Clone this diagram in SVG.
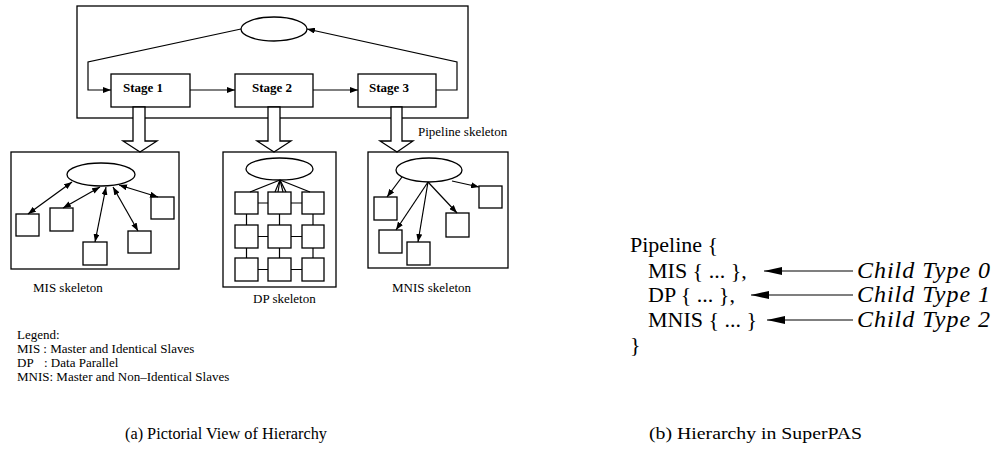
<svg xmlns="http://www.w3.org/2000/svg" width="995" height="458" viewBox="0 0 995 458">
<style>
.b{fill:#fff;stroke:#000;stroke-width:1.3}
.bx{fill:none;stroke:#000;stroke-width:1.3}
.ln{fill:none;stroke:#000;stroke-width:1.2}
.t{font-family:"Liberation Serif","Times New Roman",serif;font-size:13px;fill:#000}
.st{font-family:"Liberation Serif","Times New Roman",serif;font-size:13px;fill:#000;font-weight:bold}
.c{font-family:"Liberation Serif","Times New Roman",serif;font-size:22px;fill:#000}
.ci{font-family:"Liberation Serif","Times New Roman",serif;font-size:24px;font-style:italic;fill:#000}
.cap{font-family:"Liberation Serif","Times New Roman",serif;font-size:17px;fill:#000}
</style>
<defs>
<marker id="ah" markerUnits="userSpaceOnUse" markerWidth="8" markerHeight="6" refX="8" refY="3" orient="auto-start-reverse"><path d="M0,0 L8,3 L0,6 z" fill="#000"/></marker>
<marker id="ahL" markerUnits="userSpaceOnUse" markerWidth="18" markerHeight="8" refX="18" refY="4" orient="auto"><path d="M0,0 L18,4 L0,8 z" fill="#000"/></marker>
</defs>
<rect width="995" height="458" fill="#fff"/>

<!-- Pipeline skeleton -->
<g id="pipeline"><rect class="bx" x="77" y="6" width="391" height="112"/><text class="t" x="418" y="136">Pipeline skeleton</text></g>
<g id="pipe-master"><ellipse class="b" cx="274" cy="29" rx="33" ry="12"/></g>
<g id="stage1"><rect class="b" x="111" y="74" width="79" height="33"/><text class="st" x="123" y="92">Stage 1</text></g>
<g id="stage2"><rect class="b" x="235" y="74" width="78" height="33"/><text class="st" x="252" y="92">Stage 2</text></g>
<g id="stage3"><rect class="b" x="358" y="74" width="78" height="33"/><text class="st" x="369" y="92">Stage 3</text></g>

<!-- MIS skeleton -->
<g id="mis"><rect class="bx" x="11" y="152" width="168" height="117"/><text class="t" x="33" y="292">MIS skeleton</text></g>
<g id="mis-master"><ellipse class="b" cx="101" cy="174.5" rx="34" ry="11.5"/></g>
<g id="mis-s1"><rect class="b" x="16" y="214" width="23" height="22"/></g>
<g id="mis-s2"><rect class="b" x="50" y="208" width="23" height="23"/></g>
<g id="mis-s3"><rect class="b" x="83" y="242" width="24" height="23"/></g>
<g id="mis-s4"><rect class="b" x="128" y="231" width="23" height="22"/></g>
<g id="mis-s5"><rect class="b" x="151" y="197" width="23" height="22"/></g>

<!-- DP skeleton -->
<g id="dp"><rect class="bx" x="223" y="152" width="113" height="135"/><text class="t" x="253" y="303">DP skeleton</text></g>
<g id="dp-master"><ellipse class="b" cx="279.5" cy="169" rx="33.5" ry="11"/></g>
<g id="dp-grid">
<rect class="b" x="235" y="192" width="23" height="22"/><rect class="b" x="268" y="192" width="23" height="22"/><rect class="b" x="302" y="192" width="22" height="22"/>
<rect class="b" x="235" y="225" width="23" height="23"/><rect class="b" x="268" y="225" width="23" height="23"/><rect class="b" x="302" y="225" width="22" height="23"/>
<rect class="b" x="235" y="258" width="23" height="23"/><rect class="b" x="268" y="258" width="23" height="23"/><rect class="b" x="302" y="258" width="22" height="23"/>
</g>

<!-- MNIS skeleton -->
<g id="mnis"><rect class="bx" x="368" y="152" width="140" height="116"/><text class="t" x="392" y="292">MNIS skeleton</text></g>
<g id="mnis-master"><ellipse class="b" cx="429" cy="170" rx="33" ry="12"/></g>
<g id="mnis-s1"><rect class="b" x="374" y="197" width="23" height="23"/></g>
<g id="mnis-s2"><rect class="b" x="379" y="230" width="23" height="23"/></g>
<g id="mnis-s3"><rect class="b" x="407" y="242" width="23" height="23"/></g>
<g id="mnis-s4"><rect class="b" x="446" y="213" width="23" height="24"/></g>
<g id="mnis-s5"><rect class="b" x="479" y="186" width="23" height="22"/></g>

<!-- Legend -->
<g id="legend">
<text class="t" x="17" y="339">Legend:</text>
<text class="t" x="17" y="353">MIS : Master and Identical Slaves</text>
<text class="t" x="17" y="367">DP<tspan x="44">: Data Parallel</tspan></text>
<text class="t" x="17" y="381">MNIS: Master and Non–Identical Slaves</text>
</g>

<!-- Code listing -->
<g id="code">
<text class="c" x="630" y="252">Pipeline {</text>
<text class="c" x="648" y="278">MIS { ... },</text>
<text class="c" x="648" y="302">DP { ... },</text>
<text class="c" x="648" y="327">MNIS { ... }</text>
<text class="c" x="630" y="352">}</text>
</g>
<g id="child0"><text class="ci" x="857" y="278" textLength="133" lengthAdjust="spacing">Child Type 0</text></g>
<g id="child1"><text class="ci" x="857" y="302" textLength="133" lengthAdjust="spacing">Child Type 1</text></g>
<g id="child2"><text class="ci" x="857" y="327" textLength="133" lengthAdjust="spacing">Child Type 2</text></g>

<!-- Captions -->
<text class="cap" x="125" y="439" textLength="202" lengthAdjust="spacingAndGlyphs">(a) Pictorial View of Hierarchy</text>
<text class="cap" x="649" y="439" textLength="213" lengthAdjust="spacingAndGlyphs">(b) Hierarchy in SuperPAS</text>

<!-- Connectors -->
<g id="connectors">
<polyline class="ln" points="241,29 88,62 88,90 111,90" marker-end="url(#ah)"/>
<polyline class="ln" points="436,90 457,90 457,62 307,29" marker-end="url(#ah)"/>
<line class="ln" x1="190" y1="90" x2="235" y2="90" marker-end="url(#ah)"/>
<line class="ln" x1="313" y1="90" x2="358" y2="90" marker-end="url(#ah)"/>
<polygon class="b" points="133,107 133,141 123,141 140,152 157,141 145,141 145,107"/>
<polygon class="b" points="268,107 268,141 257,141 274,152 291,141 280,141 280,107"/>
<polygon class="b" points="391,107 391,141 380,141 397,152 413,141 402,141 402,107"/>
<line class="ln" x1="72" y1="182" x2="28" y2="214" marker-start="url(#ah)" marker-end="url(#ah)"/>
<line class="ln" x1="100" y1="187" x2="63" y2="208" marker-start="url(#ah)" marker-end="url(#ah)"/>
<line class="ln" x1="106" y1="187" x2="95" y2="242" marker-start="url(#ah)" marker-end="url(#ah)"/>
<line class="ln" x1="113" y1="187" x2="138" y2="231" marker-start="url(#ah)" marker-end="url(#ah)"/>
<line class="ln" x1="119" y1="185" x2="158" y2="197" marker-start="url(#ah)" marker-end="url(#ah)"/>
<line class="ln" x1="280" y1="180" x2="250" y2="192"/>
<line class="ln" x1="280" y1="180" x2="275" y2="192"/>
<line class="ln" x1="280" y1="180" x2="278" y2="192"/>
<line class="ln" x1="280" y1="180" x2="283" y2="192"/>
<line class="ln" x1="280" y1="180" x2="286" y2="192"/>
<line class="ln" x1="280" y1="180" x2="310" y2="192"/>
<path class="ln" d="M258,203H268M291,203H302M258,236.5H268M291,236.5H302M258,269.5H268M291,269.5H302M246.5,214V225M279.5,214V225M313,214V225M246.5,248V258M279.5,248V258M313,248V258"/>
<line class="ln" x1="402" y1="177" x2="387" y2="197" marker-end="url(#ah)"/>
<line class="ln" x1="428" y1="182" x2="396" y2="230" marker-end="url(#ah)"/>
<line class="ln" x1="428" y1="182" x2="418" y2="242" marker-end="url(#ah)"/>
<line class="ln" x1="428" y1="182" x2="457" y2="213" marker-end="url(#ah)"/>
<line class="ln" x1="452" y1="181" x2="479" y2="187" marker-end="url(#ah)"/>
<line class="ln" x1="853" y1="271" x2="764" y2="271" marker-end="url(#ahL)"/>
<line class="ln" x1="853" y1="295" x2="751" y2="295" marker-end="url(#ahL)"/>
<line class="ln" x1="853" y1="320" x2="767" y2="320" marker-end="url(#ahL)"/>
</g>
</svg>
